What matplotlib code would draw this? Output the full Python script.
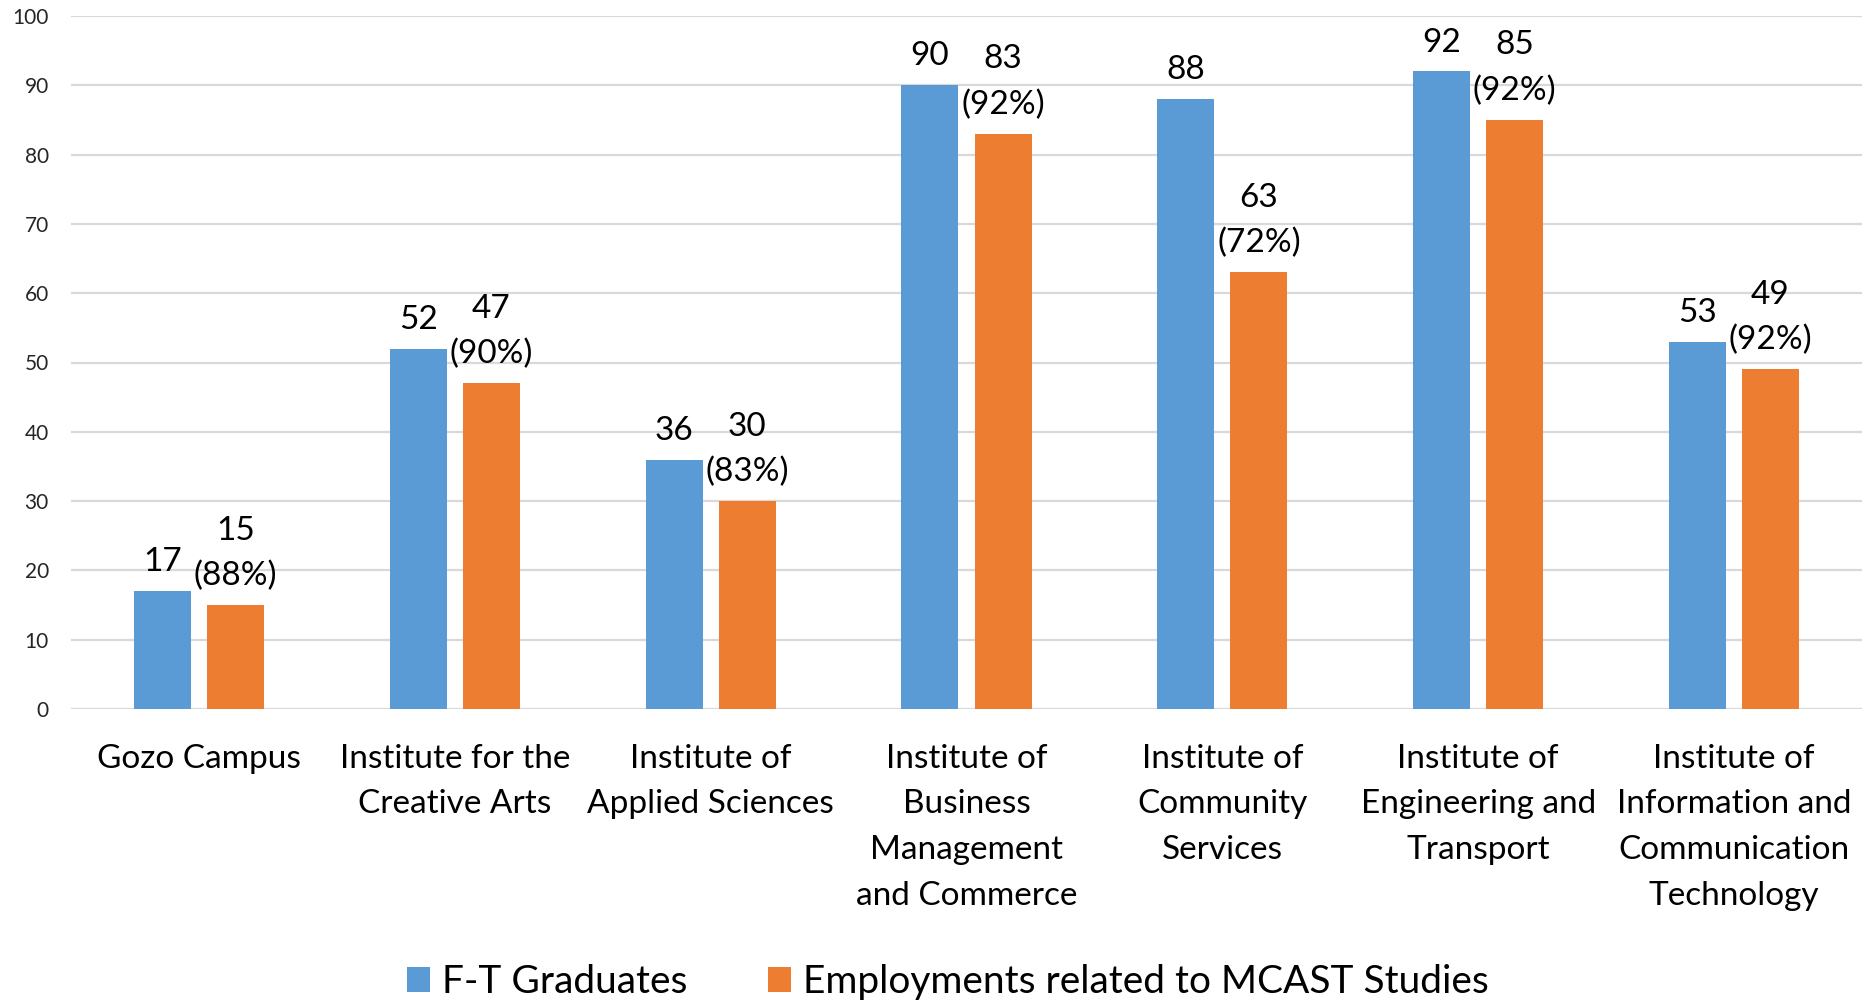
import matplotlib
matplotlib.use("Agg")
import matplotlib.pyplot as plt
import numpy as np
from matplotlib.patches import Patch

categories = [
    "Gozo Campus",
    "Institute for the\nCreative Arts",
    "Institute of\nApplied Sciences",
    "Institute of\nBusiness\nManagement\nand Commerce",
    "Institute of\nCommunity\nServices",
    "Institute of\nEngineering and\nTransport",
    "Institute of\nInformation and\nCommunication\nTechnology",
]
graduates = [17, 52, 36, 90, 88, 92, 53]
employments = [15, 47, 30, 83, 63, 85, 49]
percentages = [88, 90, 83, 92, 72, 92, 92]
series_names = ["F-T Graduates", "Employments related to MCAST Studies"]
yticks = list(range(0, 101, 10))

BLUE = "#5B9BD5"
ORANGE = "#ED7D31"
FONT = "Lato"

plt.rcParams["font.family"] = [FONT, "DejaVu Sans"]

fig = plt.figure(figsize=(18.75, 10), dpi=100)
ax = fig.add_axes([0.0379, 0.291, 0.993 - 0.0379, 0.984 - 0.291])

x = np.arange(len(categories))
bw = 0.223
off = 0.143
ax.bar(x - off, graduates, width=bw, color=BLUE, zorder=3)
ax.bar(x + off, employments, width=bw, color=ORANGE, zorder=3)

lbl_fs = 24
for xi, g in zip(x, graduates):
    ax.annotate(f"{g}", (xi - off, g), xytext=(0, 10), textcoords="offset points",
                ha="center", va="bottom", fontsize=lbl_fs, color="#000000")
for xi, e, p in zip(x, employments, percentages):
    ax.annotate(f"{e}\n({p}%)", (xi + off, e), xytext=(0, 10), textcoords="offset points",
                ha="center", va="bottom", fontsize=lbl_fs, color="#000000",
                linespacing=1.62, multialignment="center")

ax.set_xlim(-0.5, len(categories) - 0.5)
ax.set_ylim(0, 100)
ax.set_yticks(yticks)
ax.yaxis.grid(True, color="#D9D9D9", linewidth=1.6, zorder=0)
ax.set_axisbelow(True)
for s in ax.spines.values():
    s.set_visible(False)
ax.tick_params(axis="y", length=0, pad=16, labelsize=15, labelcolor="#262626")
ax.tick_params(axis="x", length=0, pad=25, labelsize=24, labelcolor="#000000")
ax.set_xticks(x)
ax.set_xticklabels(categories, linespacing=1.65)
for s in ax.get_yticklabels():
    s.set_horizontalalignment("right")

handles = [Patch(facecolor=BLUE), Patch(facecolor=ORANGE)]
fig.legend(handles, series_names, loc="center", bbox_to_anchor=(0.5056, 0.018),
           ncol=2, frameon=False, fontsize=28, handlelength=0.6, handleheight=0.6,
           handletextpad=0.31, columnspacing=2.06, borderpad=0, borderaxespad=0)

fig.savefig("out.png", dpi=100, facecolor="white")
